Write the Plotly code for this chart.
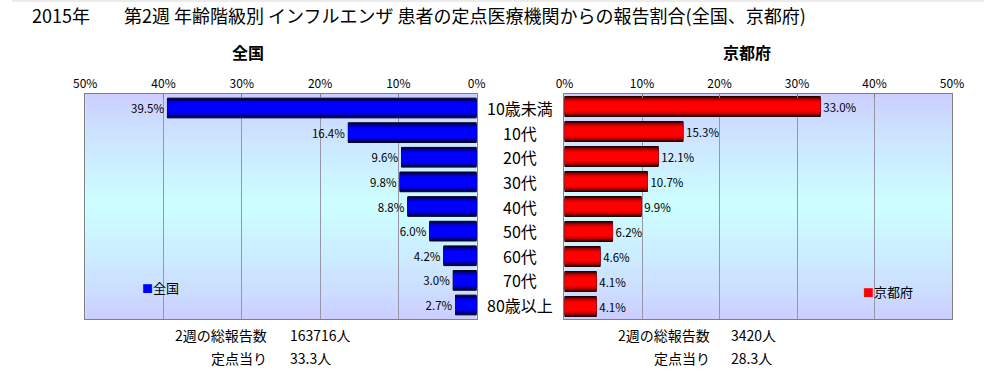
import plotly.graph_objects as go

# ---- data ----
categories = ["10歳未満", "10代", "20代", "30代", "40代", "50代", "60代", "70代", "80歳以上"]
zenkoku = [39.5, 16.4, 9.6, 9.8, 8.8, 6.0, 4.2, 3.0, 2.7]
kyoto = [33.0, 15.3, 12.1, 10.7, 9.9, 6.2, 4.6, 4.1, 4.1]
tick_vals = [0, 10, 20, 30, 40, 50]
tick_text = ["0%", "10%", "20%", "30%", "40%", "50%"]
title_year = "2015年"
title_main = "第2週 年齢階級別 インフルエンザ 患者の定点医療機関からの報告割合(全国、京都府)"
panel_titles = ["全国", "京都府"]
summary_labels = ["2週の総報告数", "定点当り"]
summary_zenkoku = ["163716人", "33.3人"]
summary_kyoto = ["3420人", "28.3人"]

FONT = "Noto Sans CJK JP"
W, H = 1006, 373

def px(x):
    return x / W

def py(y):
    return 1 - y / H

xdom1 = [px(75), px(476)]
xdom2 = [px(566), px(963)]
ydom = [py(319), py(94)]

def mix(c1, c2, t):
    return "rgb(%d,%d,%d)" % tuple(round(a + (b - a) * t) for a, b in zip(c1, c2))

fig = go.Figure()

# layered bars to mimic cylinder gradient
widths = [0.8, 0.74, 0.68, 0.62, 0.55, 0.46, 0.36]
ts = [0.0, 0.22, 0.42, 0.6, 0.77, 0.9, 1.0]
blue_dark, blue_bright = (0, 0, 40), (0, 0, 255)
red_dark, red_bright = (50, 0, 0), (255, 0, 0)

for i, (w, t) in enumerate(zip(widths, ts)):
    first = i == 0
    fig.add_trace(go.Bar(
        y=categories, x=zenkoku, orientation="h", width=w,
        marker=dict(color=mix(blue_dark, blue_bright, t),
                    line=dict(color="#000020", width=1 if first else 0)),
        text=[f"{v:.1f}%" for v in zenkoku] if first else None,
        textposition="outside" if first else "none",
        textfont=dict(family=FONT, size=11.5, color="black"),
        cliponaxis=False, showlegend=False, hoverinfo="skip",
        xaxis="x", yaxis="y"))
    fig.add_trace(go.Bar(
        y=categories, x=kyoto, orientation="h", width=w,
        marker=dict(color=mix(red_dark, red_bright, t),
                    line=dict(color="#200000", width=1 if first else 0)),
        text=[f"{v:.1f}%" for v in kyoto] if first else None,
        textposition="outside" if first else "none",
        textfont=dict(family=FONT, size=11.5, color="black"),
        cliponaxis=False, showlegend=False, hoverinfo="skip",
        xaxis="x2", yaxis="y2"))

# background gradient bands
shapes = []
nb = 60
lav, cyan = (204, 204, 255), (204, 255, 255)
for xr, yr in [("x domain", "y domain"), ("x2 domain", "y2 domain")]:
    for k in range(nb):
        y0, y1 = k / nb, (k + 1) / nb
        c = (y0 + y1) / 2
        t = 1 - abs(c - 0.5) / 0.5
        t = t ** 0.8
        shapes.append(dict(type="rect", xref=xr, yref=yr, x0=0, x1=1, y0=y0, y1=y1 + 0.002,
                           fillcolor=mix(lav, cyan, t), line=dict(width=0), layer="below"))
# top light border line of the chart area
shapes.append(dict(type="line", xref="paper", yref="paper", x0=0, x1=px(996), y0=py(1), y1=py(1),
                   line=dict(color="#d8d8d8", width=1)))

axis_common = dict(
    tickvals=tick_vals, ticktext=tick_text, side="top", showgrid=True,
    gridcolor="#9696a6", gridwidth=1, showline=True, linecolor="#808080", linewidth=1,
    mirror=True, ticks="inside", ticklen=4, tickcolor="#808080",
    tickfont=dict(family=FONT, size=12, color="black"), zeroline=False, fixedrange=True,
)
yaxis_common = dict(
    type="category", categoryarray=categories, categoryorder="array",
    autorange="reversed", showticklabels=False, showgrid=False, showline=True,
    linecolor="#808080", mirror=True, ticks="", zeroline=False, domain=ydom, fixedrange=True,
)

annotations = []
annotations.append(dict(text=title_year, x=px(18), y=py(15), xref="paper", yref="paper",
                        xanchor="left", yanchor="middle", showarrow=False,
                        font=dict(family=FONT, size=18, color="black")))
annotations.append(dict(text=title_main, x=px(113), y=py(15), xref="paper", yref="paper",
                        xanchor="left", yanchor="middle", showarrow=False,
                        font=dict(family=FONT, size=18, color="black")))
for t, xc in zip(panel_titles, [242, 753]):
    annotations.append(dict(text=f"<b>{t}</b>", x=px(xc), y=py(52), xref="paper", yref="paper",
                            xanchor="center", yanchor="middle", showarrow=False,
                            font=dict(family=FONT, size=16, color="black")))
for c in categories:
    annotations.append(dict(text=c, x=px(520), y=c, xref="paper", yref="y",
                            xanchor="center", yanchor="middle", showarrow=False,
                            font=dict(family=FONT, size=16, color="black")))
# legend-like labels
annotations.append(dict(text="<span style='color:#0000ff;font-size:11px'>■</span>全国", x=px(131), y=py(287),
                        xref="paper", yref="paper", xanchor="left", yanchor="middle",
                        showarrow=False, font=dict(family=FONT, size=13, color="black")))
annotations.append(dict(text="<span style='color:#ff0000;font-size:11px'>■</span>京都府", x=px(870), y=py(291),
                        xref="paper", yref="paper", xanchor="left", yanchor="middle",
                        showarrow=False, font=dict(family=FONT, size=13, color="black")))
# summary text
for vals, xl, xv in [(summary_zenkoku, 263, 283), (summary_kyoto, 717, 735)]:
    for lab, val, yy in zip(summary_labels, vals, [335, 358]):
        annotations.append(dict(text=lab, x=px(xl), y=py(yy), xref="paper", yref="paper",
                                xanchor="right", yanchor="middle", showarrow=False,
                                font=dict(family=FONT, size=14, color="black")))
        annotations.append(dict(text=val, x=px(xv), y=py(yy), xref="paper", yref="paper",
                                xanchor="left", yanchor="middle", showarrow=False,
                                font=dict(family=FONT, size=14, color="black")))

fig.update_layout(
    width=W, height=H, margin=dict(l=0, r=0, t=0, b=0),
    paper_bgcolor="white", plot_bgcolor="rgba(0,0,0,0)",
    barmode="overlay", bargap=0.2,
    xaxis=dict(domain=xdom1, range=[50, 0], anchor="y", **axis_common),
    yaxis=dict(anchor="x", **yaxis_common),
    xaxis2=dict(domain=xdom2, range=[0, 50], anchor="y2", **axis_common),
    yaxis2=dict(anchor="x2", **yaxis_common),
    shapes=shapes, annotations=annotations,
    font=dict(family=FONT), showlegend=False,
)

fig.write_html("out.html", config={"displayModeBar": False},
               post_script="document.body.style.margin='0';document.body.style.overflow='hidden';")
